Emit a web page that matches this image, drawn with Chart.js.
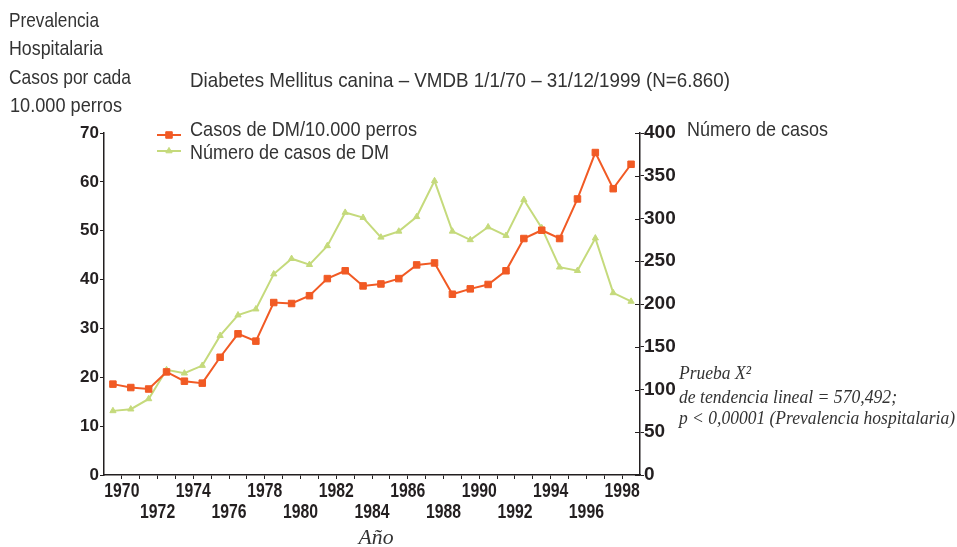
<!DOCTYPE html>
<html><head><meta charset="utf-8">
<script src="https://cdn.jsdelivr.net/npm/chart.js@4/dist/chart.umd.min.js"></script>
<style>html,body{margin:0;padding:0;background:#fff;}#wrap{width:957px;height:547px;}</style>
</head><body><div id="wrap"><canvas id="c" width="957" height="547"></canvas></div>
<script>
// ---- data ----
const years = [1970,1971,1972,1973,1974,1975,1976,1977,1978,1979,1980,1981,1982,1983,1984,1985,1986,1987,1988,1989,1990,1991,1992,1993,1994,1995,1996,1997,1998,1999];
const prevalence = [18.6,17.9,17.6,21.1,19.2,18.8,24.1,28.9,27.4,35.3,35.1,36.7,40.2,41.8,38.7,39.1,40.2,43.0,43.4,37.0,38.1,39.0,41.8,48.4,50.1,48.4,56.5,66.0,58.6,63.6];
const cases = [75,77,89,123,119,128,163,187,194,235,253,246,268,307,301,278,285,302,344,285,275,290,280,322,289,243,239,277,213,203];
const tickYears = years.slice(0, 29); // 1970 .. 1998 ticks
const seriesNames = ['Casos de DM/10.000 perros', 'Número de casos de DM'];

const ORANGE = '#f15a24';
const GREEN = '#c5da7c';
const AX = '#231f20';
const TXT = '#333333';
const SANS = "'Liberation Sans', Arial, sans-serif";
const SERIF = "'Liberation Serif', 'DejaVu Serif', serif";

// draw text at a given font size, horizontally scaled to a target width (or by a fixed factor)
function drawText(ctx, text, x, y, size, style, family, color, opts) {
  opts = opts || {};
  ctx.save();
  ctx.font = style + ' ' + size + 'px ' + family;
  let sx = opts.scaleX || 1;
  if (opts.width) sx = opts.width / ctx.measureText(text).width;
  ctx.fillStyle = color;
  ctx.textAlign = opts.align || 'left';
  ctx.textBaseline = 'alphabetic';
  ctx.translate(x, y);
  ctx.scale(sx, 1);
  ctx.fillText(text, 0, 0);
  ctx.restore();
}

const decor = {
  id: 'decor',
  afterDraw(chart) {
    const ctx = chart.ctx;
    ctx.save();
    // left axis title block
    drawText(ctx, 'Prevalencia', 9, 27, 21, 'normal', SANS, TXT, {width: 90});
    drawText(ctx, 'Hospitalaria', 9, 55, 21, 'normal', SANS, TXT, {width: 94});
    drawText(ctx, 'Casos por cada', 9, 84, 21, 'normal', SANS, TXT, {width: 122});
    drawText(ctx, '10.000 perros', 10, 112, 21, 'normal', SANS, TXT, {width: 112});
    // title
    drawText(ctx, 'Diabetes Mellitus canina – VMDB 1/1/70 – 31/12/1999 (N=6.860)', 190, 87, 21, 'normal', SANS, TXT, {width: 540});
    // right axis title
    drawText(ctx, 'Número de casos', 687, 136, 21, 'normal', SANS, TXT, {width: 141});
    // x axis title
    drawText(ctx, 'Año', 376, 544, 21, 'italic', SERIF, TXT, {width: 35, align: 'center'});
    // annotation
    drawText(ctx, 'Prueba X²', 679, 379, 19, 'italic', SERIF, TXT, {width: 72});
    drawText(ctx, 'de tendencia lineal = 570,492;', 679, 403, 19, 'italic', SERIF, TXT, {width: 218});
    drawText(ctx, 'p < 0,00001 (Prevalencia hospitalaria)', 679, 424, 19, 'italic', SERIF, TXT, {width: 276});

    // legend
    const rows = [{line: 135, text: 136, w: 227}, {line: 151, text: 159, w: 199}];
    chart.data.datasets.forEach((ds, i) => {
      const r = rows[i];
      ctx.strokeStyle = ds.borderColor;
      ctx.lineWidth = 2;
      ctx.beginPath(); ctx.moveTo(157, r.line); ctx.lineTo(181, r.line); ctx.stroke();
      ctx.fillStyle = ds.pointBackgroundColor;
      ctx.strokeStyle = ds.pointBorderColor;
      ctx.lineWidth = 1;
      Chart.helpers.drawPoint(ctx, {pointStyle: ds.pointStyle, radius: ds.pointRadius, rotation: 0, borderWidth: 1}, 169, r.line);
      drawText(ctx, ds.label, 190, r.text, 21, 'normal', SANS, TXT, {width: r.w});
    });

    // x tick labels (condensed bold), at the scale's own tick pixels
    const xs = chart.scales.x;
    xs.ticks.forEach((t, i) => {
      const lab = t.label;
      if (!lab || lab === '') return;
      const two = Array.isArray(lab);
      const txt = two ? lab[lab.length - 1] : lab;
      drawText(ctx, txt, xs.getPixelForTick(i), two ? 518 : 497, 20.5, 'bold', SANS, AX, {scaleX: 0.77, align: 'center'});
    });

    // inward tick marks of right axis
    const s = chart.scales.y1;
    ctx.strokeStyle = AX; ctx.lineWidth = 1;
    s.ticks.forEach((t, i) => {
      const py = Math.round(s.getPixelForTick(i)) + 0.5;
      ctx.beginPath(); ctx.moveTo(s.left - 5, py); ctx.lineTo(s.left, py); ctx.stroke();
    });
    ctx.restore();
  }
};

new Chart(document.getElementById('c'), {
  type: 'line',
  data: {
    datasets: [
      {
        label: seriesNames[0],
        data: years.map((yr, i) => ({x: yr, y: prevalence[i]})),
        yAxisID: 'y',
        borderColor: ORANGE, backgroundColor: ORANGE,
        pointBackgroundColor: ORANGE, pointBorderColor: ORANGE,
        pointStyle: 'rect', pointRadius: 4.6, pointBorderWidth: 1,
        borderWidth: 2, tension: 0, fill: false
      },
      {
        label: seriesNames[1],
        data: years.map((yr, i) => ({x: yr, y: cases[i]})),
        yAxisID: 'y1',
        borderColor: GREEN, backgroundColor: GREEN,
        pointBackgroundColor: GREEN, pointBorderColor: GREEN,
        pointStyle: 'triangle', pointRadius: 3.6, pointBorderWidth: 1,
        borderWidth: 2, tension: 0, fill: false
      }
    ]
  },
  options: {
    responsive: false,
    animation: false,
    devicePixelRatio: 1,
    layout: {padding: {top: 133, left: 0, right: 0, bottom: 0}},
    plugins: {legend: {display: false}, tooltip: {enabled: false}},
    scales: {
      x: {
        type: 'linear', min: 1969.5, max: 1999.5,
        afterBuildTicks: s => { s.ticks = tickYears.map(yr => ({value: yr + 0.5})); },
        afterFit: s => { s.height = 72; },
        ticks: {
          autoSkip: false, maxRotation: 0, minRotation: 0, padding: 1,
          font: {family: SANS, size: 19, weight: 'bold'}, color: 'rgba(0,0,0,0)',
          callback: v => {
            const yr = Math.floor(v);
            if (yr % 2) return '';
            return (yr % 4 === 2) ? String(yr) : ['', String(yr)];
          }
        },
        grid: {drawOnChartArea: false, tickLength: 4, color: AX, lineWidth: 1},
        border: {display: true, color: AX, width: 1.5}
      },
      y: {
        position: 'left', min: 0, max: 70,
        afterFit: s => { s.width = 104; },
        ticks: {stepSize: 10, padding: 1, font: {family: SANS, size: 17, weight: 'bold'}, color: AX},
        grid: {drawOnChartArea: false, tickLength: 4, color: AX, lineWidth: 1},
        border: {display: true, color: AX, width: 1.5}
      },
      y1: {
        position: 'right', min: 0, max: 400,
        afterFit: s => { s.width = 317; },
        ticks: {stepSize: 50, padding: 0, font: {family: SANS, size: 19, weight: 'bold'}, color: AX},
        grid: {drawOnChartArea: false, tickLength: 4, color: AX, lineWidth: 1},
        border: {display: true, color: AX, width: 1.5}
      }
    }
  },
  plugins: [decor]
});
</script>
</body></html>
